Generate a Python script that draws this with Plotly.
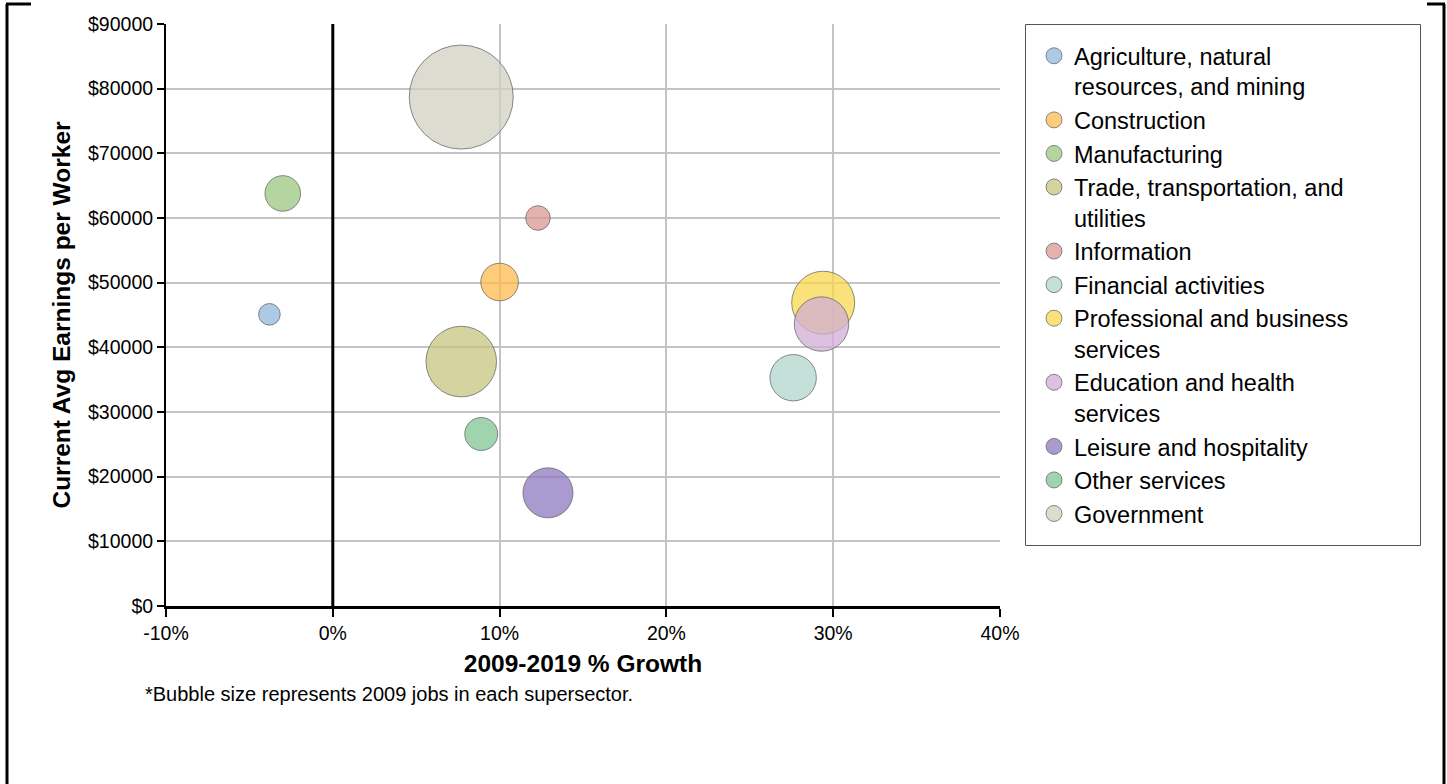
import plotly.graph_objects as go

# Supersector bubble data
sectors = [
    "Agriculture, natural<br>resources, and mining",
    "Construction",
    "Manufacturing",
    "Trade, transportation, and<br>utilities",
    "Information",
    "Financial activities",
    "Professional and business<br>services",
    "Education and health<br>services",
    "Leisure and hospitality",
    "Other services",
    "Government",
]
growth_pct = [-3.8, 10.0, -3.0, 7.7, 12.3, 27.6, 29.4, 29.3, 12.9, 8.9, 7.7]
avg_earnings = [45100, 50100, 63800, 37800, 60000, 35300, 46900, 43600, 17500, 26600, 78700]
jobs_2009 = [11700, 35300, 31700, 124600, 15100, 53800, 99200, 74000, 62500, 27200, 270400]
colors = [
    "rgba(146,183,222,0.75)", "rgba(254,187,78,0.75)", "rgba(155,198,128,0.75)",
    "rgba(199,196,127,0.75)", "rgba(219,152,147,0.75)", "rgba(178,214,203,0.75)",
    "rgba(248,215,78,0.75)", "rgba(208,174,214,0.75)", "rgba(143,120,192,0.75)",
    "rgba(127,198,147,0.75)", "rgba(208,208,192,0.75)",
]

x_ticks = [-10, 0, 10, 20, 30, 40]
x_tick_text = ["-10%", "0%", "10%", "20%", "30%", "40%"]
y_ticks = [0, 10000, 20000, 30000, 40000, 50000, 60000, 70000, 80000, 90000]
y_tick_text = ["$0", "$10000", "$20000", "$30000", "$40000", "$50000",
               "$60000", "$70000", "$80000", "$90000"]

FONT = "Liberation Sans, Arial, sans-serif"

fig = go.Figure()
for name, gx, ey, jobs, col in zip(sectors, growth_pct, avg_earnings, jobs_2009, colors):
    fig.add_trace(go.Scatter(
        x=[gx], y=[ey], mode="markers", name=name,
        marker=dict(size=[jobs], sizemode="area", sizeref=50, opacity=1,
                    color=col, line=dict(color="rgba(100,100,100,0.75)", width=1)),
    ))

W, H = 1447, 784
L, R, T, B = 166, 447, 24, 178
pw, ph = W - L - R, H - T - B

def px_x(v):
    return (v - L) / pw

def px_y(v):
    return 1 - (v - T) / ph

shapes = [
    # zero line
    dict(type="line", xref="x", yref="paper", x0=0, x1=0, y0=0, y1=1,
         line=dict(color="black", width=3)),
    # legend frame
    dict(type="rect", xref="paper", yref="paper", x0=px_x(1025.5), x1=px_x(1420.5),
         y0=px_y(24.5), y1=px_y(545.5), line=dict(color="#555", width=1)),
    # outer frame corners
    dict(type="line", xref="paper", yref="paper", x0=px_x(7), x1=px_x(7),
         y0=px_y(4), y1=px_y(784), line=dict(color="black", width=3)),
    dict(type="line", xref="paper", yref="paper", x0=px_x(6), x1=px_x(31),
         y0=px_y(4), y1=px_y(4), line=dict(color="black", width=3)),
    dict(type="line", xref="paper", yref="paper", x0=px_x(1444), x1=px_x(1444),
         y0=px_y(4), y1=px_y(784), line=dict(color="black", width=3)),
    dict(type="line", xref="paper", yref="paper", x0=px_x(1427), x1=px_x(1445),
         y0=px_y(4), y1=px_y(4), line=dict(color="black", width=3)),
]

fig.update_layout(
    width=W, height=H,
    margin=dict(l=L, r=R, t=T, b=B),
    paper_bgcolor="white", plot_bgcolor="white",
    font=dict(family=FONT, color="black"),
    showlegend=True,
    legend=dict(
        x=px_x(1034), y=px_y(34), xanchor="left", yanchor="top",
        borderwidth=0, bgcolor="rgba(0,0,0,0)", valign="top",
        font=dict(size=23.5, family=FONT), itemsizing="trace",
    ),
    xaxis=dict(
        range=[-10, 40], tickvals=x_ticks, ticktext=x_tick_text,
        showgrid=True, gridcolor="#c4c4c4", gridwidth=2,
        zeroline=False, showline=True, linecolor="black", linewidth=3,
        ticks="outside", ticklen=8, tickcolor="black", tickwidth=2,
        tickfont=dict(size=19.5),
        title=dict(text="<b>2009-2019 % Growth</b>", font=dict(size=24.5), standoff=12),
    ),
    yaxis=dict(
        range=[0, 90000], tickvals=y_ticks, ticktext=y_tick_text,
        showgrid=True, gridcolor="#c4c4c4", gridwidth=2,
        zeroline=False, showline=True, linecolor="black", linewidth=2,
        ticks="outside", ticklen=7, tickcolor="black", tickwidth=2,
        tickfont=dict(size=19.5),
        title=dict(text="<b>Current Avg Earnings per Worker</b>", font=dict(size=24.5), standoff=10),
    ),
    shapes=shapes,
    annotations=[dict(
        text="*Bubble size represents 2009 jobs in each supersector.",
        xref="paper", yref="paper", x=px_x(143), y=px_y(694),
        xanchor="left", yanchor="middle", showarrow=False,
        font=dict(size=20, family=FONT),
    )],
)

fig.write_html("out.html")
